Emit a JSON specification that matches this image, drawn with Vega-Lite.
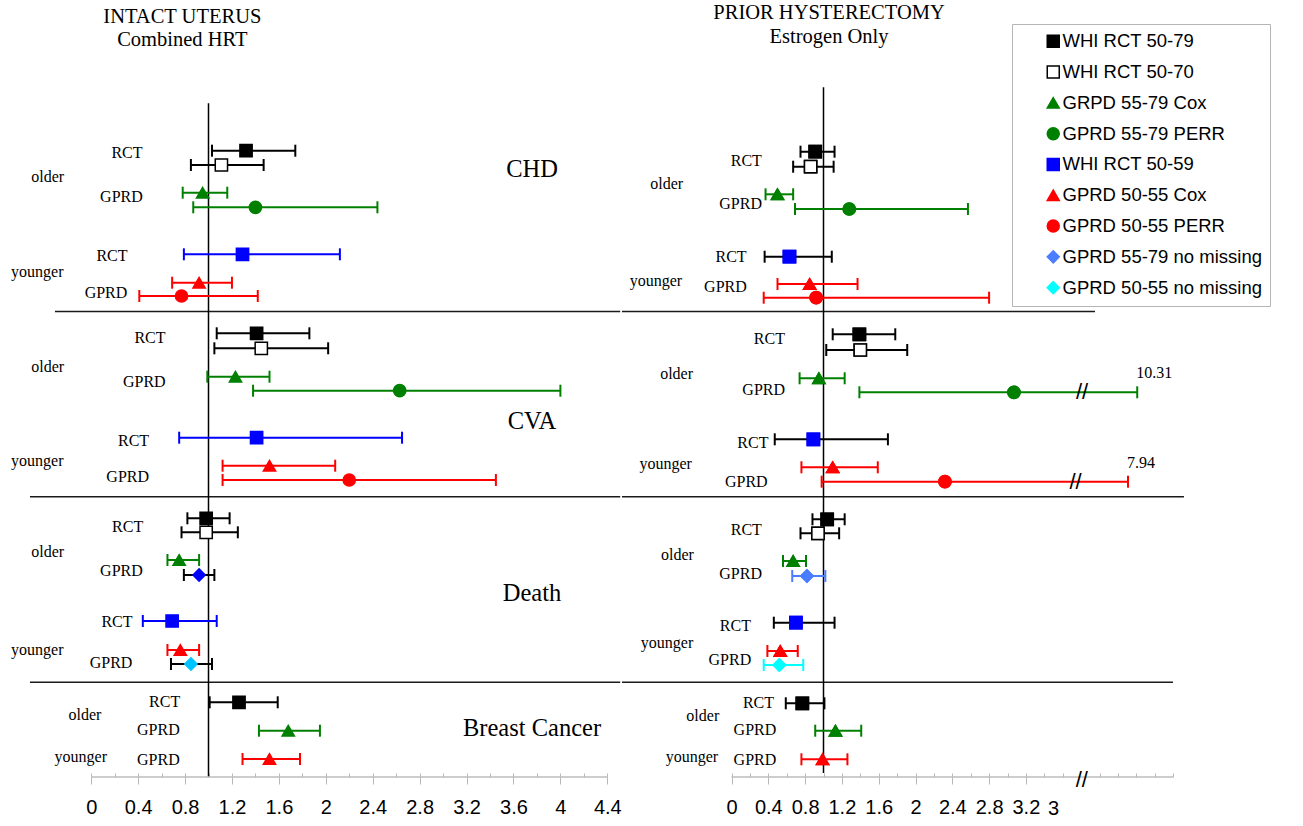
{
  "$schema": "https://vega.github.io/schema/vega-lite/v6.json",
  "padding": 0,
  "background": "white",
  "config": {
    "view": {"stroke": null},
    "axis": {"domain": false, "grid": false, "tickColor": "#b8b8b8", "tickWidth": 1, "labelFont": "Liberation Sans", "labelFontSize": 20, "labelColor": "#000000", "labelPadding": 13, "labelOverlap": false, "labelFlush": false}
  },
  "datasets": {
    "forest": [
      {"panel":"L","outcome":"CHD","series":"WHI RCT 50-79","row":15.07,"est":1.32,"lo":1.03,"hi":1.74},
      {"panel":"L","outcome":"CHD","series":"WHI RCT 50-70","row":16.5,"est":1.11,"lo":0.85,"hi":1.47},
      {"panel":"L","outcome":"CHD","series":"GRPD 55-79 Cox","row":19.27,"est":0.95,"lo":0.78,"hi":1.16},
      {"panel":"L","outcome":"CHD","series":"GPRD 55-79 PERR","row":20.73,"est":1.40,"lo":0.87,"hi":2.44},
      {"panel":"L","outcome":"CHD","series":"WHI RCT 50-59","row":25.43,"est":1.29,"lo":0.79,"hi":2.12},
      {"panel":"L","outcome":"CHD","series":"GPRD 50-55 Cox","row":28.27,"est":0.92,"lo":0.69,"hi":1.20},
      {"panel":"L","outcome":"CHD","series":"GPRD 50-55 PERR","row":29.6,"est":0.77,"lo":0.41,"hi":1.42},
      {"panel":"L","outcome":"CVA","series":"WHI RCT 50-79","row":33.33,"est":1.41,"lo":1.07,"hi":1.86},
      {"panel":"L","outcome":"CVA","series":"WHI RCT 50-70","row":34.83,"est":1.45,"lo":1.05,"hi":2.02},
      {"panel":"L","outcome":"CVA","series":"GRPD 55-79 Cox","row":37.67,"est":1.23,"lo":0.99,"hi":1.52},
      {"panel":"L","outcome":"CVA","series":"GPRD 55-79 PERR","row":39.07,"est":2.63,"lo":1.38,"hi":4.00},
      {"panel":"L","outcome":"CVA","series":"WHI RCT 50-59","row":43.77,"est":1.41,"lo":0.75,"hi":2.65},
      {"panel":"L","outcome":"CVA","series":"GPRD 50-55 Cox","row":46.57,"est":1.52,"lo":1.12,"hi":2.08},
      {"panel":"L","outcome":"CVA","series":"GPRD 50-55 PERR","row":48.0,"est":2.20,"lo":1.12,"hi":3.45},
      {"panel":"L","outcome":"Death","series":"WHI RCT 50-79","row":51.83,"est":0.98,"lo":0.82,"hi":1.18},
      {"panel":"L","outcome":"Death","series":"WHI RCT 50-70","row":53.23,"est":0.98,"lo":0.77,"hi":1.25},
      {"panel":"L","outcome":"Death","series":"GRPD 55-79 Cox","row":56.0,"est":0.75,"lo":0.65,"hi":0.92},
      {"panel":"L","outcome":"Death","series":"GPRD 55-79 no missing","row":57.5,"est":0.92,"lo":0.79,"hi":1.05},
      {"panel":"L","outcome":"Death","series":"WHI RCT 50-59","row":62.1,"est":0.69,"lo":0.44,"hi":1.07},
      {"panel":"L","outcome":"Death","series":"GPRD 50-55 Cox","row":65.0,"est":0.76,"lo":0.65,"hi":0.92},
      {"panel":"L","outcome":"Death","series":"GPRD 50-55 no missing","row":66.4,"est":0.85,"lo":0.68,"hi":1.03},
      {"panel":"L","outcome":"Breast Cancer","series":"WHI RCT 50-79","row":70.23,"est":1.26,"lo":1.01,"hi":1.59},
      {"panel":"L","outcome":"Breast Cancer","series":"GRPD 55-79 Cox","row":73.07,"est":1.68,"lo":1.43,"hi":1.95},
      {"panel":"L","outcome":"Breast Cancer","series":"GPRD 50-55 Cox","row":75.9,"est":1.52,"lo":1.29,"hi":1.78},
      {"panel":"R","outcome":"CHD","series":"WHI RCT 50-79","row":15.17,"est":0.91,"lo":0.75,"hi":1.12},
      {"panel":"R","outcome":"CHD","series":"WHI RCT 50-70","row":16.67,"est":0.86,"lo":0.67,"hi":1.11},
      {"panel":"R","outcome":"CHD","series":"GRPD 55-79 Cox","row":19.43,"est":0.50,"lo":0.37,"hi":0.67},
      {"panel":"R","outcome":"CHD","series":"GPRD 55-79 PERR","row":20.9,"est":1.28,"lo":0.69,"hi":2.57},
      {"panel":"R","outcome":"CHD","series":"WHI RCT 50-59","row":25.67,"est":0.63,"lo":0.36,"hi":1.09},
      {"panel":"R","outcome":"CHD","series":"GPRD 50-55 Cox","row":28.4,"est":0.85,"lo":0.50,"hi":1.37},
      {"panel":"R","outcome":"CHD","series":"GPRD 50-55 PERR","row":29.77,"est":0.92,"lo":0.35,"hi":2.80},
      {"panel":"R","outcome":"CVA","series":"WHI RCT 50-79","row":33.43,"est":1.39,"lo":1.10,"hi":1.78},
      {"panel":"R","outcome":"CVA","series":"WHI RCT 50-70","row":35.0,"est":1.40,"lo":1.03,"hi":1.91},
      {"panel":"R","outcome":"CVA","series":"GRPD 55-79 Cox","row":37.83,"est":0.95,"lo":0.74,"hi":1.23},
      {"panel":"R","outcome":"CVA","series":"GPRD 55-79 PERR","row":39.23,"est":3.07,"lo":1.39,"hi":4.41,"hiActual":"10.31","brk":3.81},
      {"panel":"R","outcome":"CVA","series":"WHI RCT 50-59","row":43.93,"est":0.89,"lo":0.47,"hi":1.70},
      {"panel":"R","outcome":"CVA","series":"GPRD 50-55 Cox","row":46.73,"est":1.10,"lo":0.76,"hi":1.59},
      {"panel":"R","outcome":"CVA","series":"GPRD 50-55 PERR","row":48.17,"est":2.32,"lo":0.98,"hi":4.31,"hiActual":"7.94","brk":3.74},
      {"panel":"R","outcome":"Death","series":"WHI RCT 50-79","row":51.93,"est":1.04,"lo":0.88,"hi":1.23},
      {"panel":"R","outcome":"Death","series":"WHI RCT 50-70","row":53.33,"est":0.94,"lo":0.75,"hi":1.17},
      {"panel":"R","outcome":"Death","series":"GRPD 55-79 Cox","row":56.1,"est":0.67,"lo":0.56,"hi":0.81},
      {"panel":"R","outcome":"Death","series":"GPRD 55-79 no missing","row":57.6,"est":0.82,"lo":0.66,"hi":1.02},
      {"panel":"R","outcome":"Death","series":"WHI RCT 50-59","row":62.27,"est":0.70,"lo":0.46,"hi":1.12},
      {"panel":"R","outcome":"Death","series":"GPRD 50-55 Cox","row":65.1,"est":0.53,"lo":0.39,"hi":0.72},
      {"panel":"R","outcome":"Death","series":"GPRD 50-55 no missing","row":66.5,"est":0.52,"lo":0.35,"hi":0.78},
      {"panel":"R","outcome":"Breast Cancer","series":"WHI RCT 50-79","row":70.33,"est":0.77,"lo":0.59,"hi":1.01},
      {"panel":"R","outcome":"Breast Cancer","series":"GRPD 55-79 Cox","row":73.07,"est":1.13,"lo":0.91,"hi":1.41},
      {"panel":"R","outcome":"Breast Cancer","series":"GPRD 50-55 Cox","row":75.93,"est":0.99,"lo":0.76,"hi":1.26}
    ],
    "annot": [
      {"panel":"L","kind":"title","text":"INTACT UTERUS","x":0.777,"row":1.67},
      {"panel":"L","kind":"title","text":"Combined HRT","x":0.777,"row":4.0},
      {"panel":"L","kind":"section","text":"CHD","x":3.758,"row":17.0},
      {"panel":"L","kind":"section","text":"CVA","x":3.758,"row":42.17},
      {"panel":"L","kind":"section","text":"Death","x":3.758,"row":59.4},
      {"panel":"L","kind":"section","text":"Breast Cancer","x":3.758,"row":72.9},
      {"panel":"L","kind":"group","text":"RCT","x":0.305,"row":15.27},
      {"panel":"L","kind":"group","text":"older","x":-0.371,"row":17.67},
      {"panel":"L","kind":"group","text":"GPRD","x":0.258,"row":19.67},
      {"panel":"L","kind":"group","text":"RCT","x":0.177,"row":25.57},
      {"panel":"L","kind":"group","text":"younger","x":-0.46,"row":27.2},
      {"panel":"L","kind":"group","text":"GPRD","x":0.126,"row":29.3},
      {"panel":"L","kind":"group","text":"RCT","x":0.501,"row":33.83},
      {"panel":"L","kind":"group","text":"older","x":-0.371,"row":36.67},
      {"panel":"L","kind":"group","text":"GPRD","x":0.453,"row":38.17},
      {"panel":"L","kind":"group","text":"RCT","x":0.361,"row":44.1},
      {"panel":"L","kind":"group","text":"younger","x":-0.46,"row":46.07},
      {"panel":"L","kind":"group","text":"GPRD","x":0.311,"row":47.67},
      {"panel":"L","kind":"group","text":"RCT","x":0.311,"row":52.67},
      {"panel":"L","kind":"group","text":"older","x":-0.371,"row":55.17},
      {"panel":"L","kind":"group","text":"GPRD","x":0.258,"row":57.07},
      {"panel":"L","kind":"group","text":"RCT","x":0.22,"row":62.17},
      {"panel":"L","kind":"group","text":"younger","x":-0.46,"row":65.0},
      {"panel":"L","kind":"group","text":"GPRD","x":0.169,"row":66.33},
      {"panel":"L","kind":"group","text":"RCT","x":0.626,"row":70.17},
      {"panel":"L","kind":"group","text":"older","x":-0.053,"row":71.5},
      {"panel":"L","kind":"group","text":"GPRD","x":0.573,"row":73.0},
      {"panel":"L","kind":"group","text":"younger","x":-0.089,"row":75.67},
      {"panel":"L","kind":"group","text":"GPRD","x":0.573,"row":76.0},
      {"panel":"R","kind":"title","text":"PRIOR HYSTERECTOMY","x":1.06,"row":1.27},
      {"panel":"R","kind":"title","text":"Estrogen Only","x":1.06,"row":3.67},
      {"panel":"R","kind":"group","text":"RCT","x":0.161,"row":16.1},
      {"panel":"R","kind":"group","text":"older","x":-0.705,"row":18.43},
      {"panel":"R","kind":"group","text":"GPRD","x":0.099,"row":20.4},
      {"panel":"R","kind":"group","text":"RCT","x":-0.005,"row":25.67},
      {"panel":"R","kind":"group","text":"younger","x":-0.821,"row":28.07},
      {"panel":"R","kind":"group","text":"GPRD","x":-0.066,"row":28.67},
      {"panel":"R","kind":"group","text":"RCT","x":0.412,"row":33.93},
      {"panel":"R","kind":"group","text":"older","x":-0.597,"row":37.4},
      {"panel":"R","kind":"group","text":"GPRD","x":0.35,"row":39.0},
      {"panel":"R","kind":"group","text":"RCT","x":0.232,"row":44.27},
      {"panel":"R","kind":"group","text":"younger","x":-0.715,"row":46.4},
      {"panel":"R","kind":"group","text":"GPRD","x":0.161,"row":48.17},
      {"panel":"R","kind":"group","text":"RCT","x":0.161,"row":53.0},
      {"panel":"R","kind":"group","text":"older","x":-0.587,"row":55.5},
      {"panel":"R","kind":"group","text":"GPRD","x":0.099,"row":57.4},
      {"panel":"R","kind":"group","text":"RCT","x":0.042,"row":62.6},
      {"panel":"R","kind":"group","text":"younger","x":-0.701,"row":64.27},
      {"panel":"R","kind":"group","text":"GPRD","x":-0.018,"row":66.0},
      {"panel":"R","kind":"group","text":"RCT","x":0.293,"row":70.27},
      {"panel":"R","kind":"group","text":"older","x":-0.312,"row":71.6},
      {"panel":"R","kind":"group","text":"GPRD","x":0.255,"row":73.0},
      {"panel":"R","kind":"group","text":"younger","x":-0.43,"row":75.67},
      {"panel":"R","kind":"group","text":"GPRD","x":0.255,"row":76.0},
      {"panel":"R","kind":"axis","text":"3","x":3.5,"row":80.9}
    ]
  },
  "spacing": -3,
  "resolve": {
    "scale": {"x": "independent", "y": "independent", "color": "independent", "fill": "independent", "stroke": "independent", "shape": "independent"}
  },
  "hconcat": [
    {
      "width": 620,
      "height": 777,
      "resolve": {"axis": {"x": "independent"}},
      "layer": [
        {"data": {"values": [{}]}, "mark": {"type": "rule", "color": "#1a1a1a", "strokeWidth": 1.6},
         "encoding": {"x": {"datum": -0.309, "type": "quantitative", "scale": {"domain": [-0.7775, 4.5081], "nice": false, "zero": false}, "axis": null}, "x2": {"datum": 4.51},
                      "y": {"datum": 31.15, "type": "quantitative", "scale": {"domain": [0, 77.7], "reverse": true, "nice": false, "zero": false}, "axis": null}}},
        {"data": {"values": [{}]}, "mark": {"type": "rule", "color": "#1a1a1a", "strokeWidth": 1.6},
         "encoding": {"x": {"datum": -0.522, "type": "quantitative", "scale": {"domain": [-0.7775, 4.5081], "nice": false, "zero": false}, "axis": null}, "x2": {"datum": 4.51},
                      "y": {"datum": 49.67, "type": "quantitative", "scale": {"domain": [0, 77.7], "reverse": true, "nice": false, "zero": false}, "axis": null}}},
        {"data": {"values": [{}]}, "mark": {"type": "rule", "color": "#1a1a1a", "strokeWidth": 1.6},
         "encoding": {"x": {"datum": -0.522, "type": "quantitative", "scale": {"domain": [-0.7775, 4.5081], "nice": false, "zero": false}, "axis": null}, "x2": {"datum": 4.51},
                      "y": {"datum": 68.23, "type": "quantitative", "scale": {"domain": [0, 77.7], "reverse": true, "nice": false, "zero": false}, "axis": null}}},
        {"data": {"values": [{}]}, "mark": {"type": "rule", "color": "#000000", "strokeWidth": 1.5},
         "encoding": {"x": {"datum": 1, "type": "quantitative", "scale": {"domain": [-0.7775, 4.5081], "nice": false, "zero": false}, "axis": null},
                      "y": {"datum": 10.33, "type": "quantitative", "scale": {"domain": [0, 77.7], "reverse": true, "nice": false, "zero": false}, "axis": null}, "y2": {"datum": 77.7}}},
        {"data": {"values": [{}]}, "mark": {"type": "rule", "color": "#bdbdbd", "strokeWidth": 1.5},
         "encoding": {"x": {"datum": 0, "type": "quantitative", "scale": {"domain": [-0.7775, 4.5081], "nice": false, "zero": false}, "axis": null}, "x2": {"datum": 4.4},
                      "y": {"datum": 77.7, "type": "quantitative", "scale": {"domain": [0, 77.7], "reverse": true, "nice": false, "zero": false}, "axis": null}}},
        {"data": {"name": "forest"}, "transform": [{"filter": "datum.panel === 'L'"}],
         "mark": {"type": "rule", "strokeWidth": 2, "opacity": 1},
         "encoding": {
           "x": {"field": "lo", "type": "quantitative", "title": null, "scale": {"domain": [-0.7775, 4.5081], "nice": false, "zero": false},
                 "axis": {"title": null, "orient": "bottom", "format": ".2~g", "tickSize": 7, "values": [0,0.4,0.8,1.2,1.6,2,2.4,2.8,3.2,3.6,4,4.4]}},
           "x2": {"field": "hi"},
           "y": {"field": "row", "type": "quantitative", "scale": {"domain": [0, 77.7], "reverse": true, "nice": false, "zero": false}, "axis": null},
           "color": {"field": "series", "type": "nominal", "legend": null,
                     "scale": {"domain": ["WHI RCT 50-79","WHI RCT 50-70","GRPD 55-79 Cox","GPRD 55-79 PERR","WHI RCT 50-59","GPRD 50-55 Cox","GPRD 50-55 PERR","GPRD 55-79 no missing","GPRD 50-55 no missing"],
                               "range": ["#000000","#000000","#008000","#008000","#0000ff","#ff0000","#ff0000","#000000","#000000"]}}
         }},
        {"data": {"name": "forest"}, "transform": [{"filter": "datum.panel === 'L'"}],
         "mark": {"type": "tick", "orient": "vertical", "size": 12, "thickness": 2, "opacity": 1},
         "encoding": {
           "x": {"field": "lo", "type": "quantitative", "title": null, "scale": {"domain": [-0.7775, 4.5081], "nice": false, "zero": false},
                 "axis": {"title": null, "orient": "bottom", "labels": false, "tickSize": -4, "values": [0,0.2,0.4,0.6,0.8,1,1.2,1.4,1.6,1.8,2,2.2,2.4,2.6,2.8,3,3.2,3.4,3.6,3.8,4,4.2,4.4]}},
           "y": {"field": "row", "type": "quantitative", "scale": {"domain": [0, 77.7], "reverse": true, "nice": false, "zero": false}, "axis": null},
           "color": {"field": "series", "type": "nominal", "legend": null,
                     "scale": {"domain": ["WHI RCT 50-79","WHI RCT 50-70","GRPD 55-79 Cox","GPRD 55-79 PERR","WHI RCT 50-59","GPRD 50-55 Cox","GPRD 50-55 PERR","GPRD 55-79 no missing","GPRD 50-55 no missing"],
                               "range": ["#000000","#000000","#008000","#008000","#0000ff","#ff0000","#ff0000","#000000","#000000"]}}
         }},
        {"data": {"name": "forest"}, "transform": [{"filter": "datum.panel === 'L'"}],
         "mark": {"type": "tick", "orient": "vertical", "size": 12, "thickness": 2, "opacity": 1},
         "encoding": {
           "x": {"field": "hi", "type": "quantitative", "scale": {"domain": [-0.7775, 4.5081], "nice": false, "zero": false}, "axis": null},
           "y": {"field": "row", "type": "quantitative", "scale": {"domain": [0, 77.7], "reverse": true, "nice": false, "zero": false}, "axis": null},
           "color": {"field": "series", "type": "nominal", "legend": null,
                     "scale": {"domain": ["WHI RCT 50-79","WHI RCT 50-70","GRPD 55-79 Cox","GPRD 55-79 PERR","WHI RCT 50-59","GPRD 50-55 Cox","GPRD 50-55 PERR","GPRD 55-79 no missing","GPRD 50-55 no missing"],
                               "range": ["#000000","#000000","#008000","#008000","#0000ff","#ff0000","#ff0000","#000000","#000000"]}}
         }},
        {"data": {"name": "forest"}, "transform": [{"filter": "datum.panel === 'L'"}],
         "mark": {"type": "point", "filled": true, "size": 150, "strokeWidth": 1.5, "opacity": 1},
         "encoding": {
           "x": {"field": "est", "type": "quantitative", "scale": {"domain": [-0.7775, 4.5081], "nice": false, "zero": false}, "axis": null},
           "y": {"field": "row", "type": "quantitative", "scale": {"domain": [0, 77.7], "reverse": true, "nice": false, "zero": false}, "axis": null},
           "fill": {"field": "series", "type": "nominal", "legend": null,
                    "scale": {"domain": ["WHI RCT 50-79","WHI RCT 50-70","GRPD 55-79 Cox","GPRD 55-79 PERR","WHI RCT 50-59","GPRD 50-55 Cox","GPRD 50-55 PERR","GPRD 55-79 no missing","GPRD 50-55 no missing"],
                              "range": ["#000000","#ffffff","#008000","#008000","#0000ff","#ff0000","#ff0000","#0000ff","#00c4ff"]}},
           "stroke": {"field": "series", "type": "nominal", "legend": null,
                      "scale": {"domain": ["WHI RCT 50-79","WHI RCT 50-70","GRPD 55-79 Cox","GPRD 55-79 PERR","WHI RCT 50-59","GPRD 50-55 Cox","GPRD 50-55 PERR","GPRD 55-79 no missing","GPRD 50-55 no missing"],
                                "range": ["#000000","#000000","#008000","#008000","#0000ff","#ff0000","#ff0000","#0000ff","#00c4ff"]}},
           "shape": {"field": "series", "type": "nominal", "legend": null,
                     "scale": {"domain": ["WHI RCT 50-79","WHI RCT 50-70","GRPD 55-79 Cox","GPRD 55-79 PERR","WHI RCT 50-59","GPRD 50-55 Cox","GPRD 50-55 PERR","GPRD 55-79 no missing","GPRD 50-55 no missing"],
                               "range": ["square","square","triangle-up","circle","square","triangle-up","circle","diamond","diamond"]}}
         }},
        {"data": {"name": "annot"}, "transform": [{"filter": "datum.panel === 'L' && datum.kind === 'group'"}],
         "mark": {"type": "text", "font": "Liberation Serif", "fontSize": 16, "align": "center", "baseline": "middle", "color": "#000000"},
         "encoding": {
           "x": {"field": "x", "type": "quantitative", "scale": {"domain": [-0.7775, 4.5081], "nice": false, "zero": false}, "axis": null},
           "y": {"field": "row", "type": "quantitative", "scale": {"domain": [0, 77.7], "reverse": true, "nice": false, "zero": false}, "axis": null},
           "text": {"field": "text"}}},
        {"data": {"name": "annot"}, "transform": [{"filter": "datum.panel === 'L' && datum.kind === 'section'"}],
         "mark": {"type": "text", "font": "Liberation Serif", "fontSize": 24.5, "align": "center", "baseline": "middle", "color": "#000000"},
         "encoding": {
           "x": {"field": "x", "type": "quantitative", "scale": {"domain": [-0.7775, 4.5081], "nice": false, "zero": false}, "axis": null},
           "y": {"field": "row", "type": "quantitative", "scale": {"domain": [0, 77.7], "reverse": true, "nice": false, "zero": false}, "axis": null},
           "text": {"field": "text"}}},
        {"data": {"name": "annot"}, "transform": [{"filter": "datum.panel === 'L' && datum.kind === 'title'"}],
         "mark": {"type": "text", "font": "Liberation Serif", "fontSize": 20.5, "align": "center", "baseline": "middle", "color": "#000000"},
         "encoding": {
           "x": {"field": "x", "type": "quantitative", "scale": {"domain": [-0.7775, 4.5081], "nice": false, "zero": false}, "axis": null},
           "y": {"field": "row", "type": "quantitative", "scale": {"domain": [0, 77.7], "reverse": true, "nice": false, "zero": false}, "axis": null},
           "text": {"field": "text"}}}
      ]
    },
    {
      "width": 683,
      "height": 777,
      "resolve": {"axis": {"x": "independent"}},
      "layer": [
        {"data": {"name": "forest"}, "transform": [{"filter": "datum.panel === 'R'"}],
         "mark": {"type": "point", "filled": true, "size": 150, "strokeWidth": 1.5, "opacity": 1},
         "encoding": {
           "x": {"field": "est", "type": "quantitative", "scale": {"domain": [-1.1903, 6.2337], "nice": false, "zero": false}, "axis": null},
           "y": {"field": "row", "type": "quantitative", "scale": {"domain": [0, 77.7], "reverse": true, "nice": false, "zero": false}, "axis": null},
           "fill": {"field": "series", "type": "nominal", "title": null,
                    "scale": {"domain": ["WHI RCT 50-79","WHI RCT 50-70","GRPD 55-79 Cox","GPRD 55-79 PERR","WHI RCT 50-59","GPRD 50-55 Cox","GPRD 50-55 PERR","GPRD 55-79 no missing","GPRD 50-55 no missing"],
                              "range": ["#000000","#ffffff","#008000","#008000","#0000ff","#ff0000","#ff0000","#4a7dff","#00ffff"]},
                    "legend": {"title": null, "orient": "none", "legendX": 390, "legendY": 24, "padding": 8, "symbolOffset": 24, "labelOffset": 0, "rowPadding": 11.8,
                               "labelFont": "Liberation Sans", "labelFontSize": 18.5, "labelColor": "#000000", "labelLimit": 0, "symbolSize": 144, "symbolStrokeWidth": 1.5,
                               "strokeColor": "#b5b5b5", "fillColor": "#ffffff"}},
           "stroke": {"field": "series", "type": "nominal", "title": null,
                      "scale": {"domain": ["WHI RCT 50-79","WHI RCT 50-70","GRPD 55-79 Cox","GPRD 55-79 PERR","WHI RCT 50-59","GPRD 50-55 Cox","GPRD 50-55 PERR","GPRD 55-79 no missing","GPRD 50-55 no missing"],
                                "range": ["#000000","#000000","#008000","#008000","#0000ff","#ff0000","#ff0000","#4a7dff","#00ffff"]},
                      "legend": {"title": null, "orient": "none", "legendX": 390, "legendY": 24, "padding": 8, "symbolOffset": 24, "labelOffset": 0, "rowPadding": 11.8,
                                 "labelFont": "Liberation Sans", "labelFontSize": 18.5, "labelColor": "#000000", "labelLimit": 0, "symbolSize": 144, "symbolStrokeWidth": 1.5,
                                 "strokeColor": "#b5b5b5", "fillColor": "#ffffff"}},
           "shape": {"field": "series", "type": "nominal", "title": null,
                     "scale": {"domain": ["WHI RCT 50-79","WHI RCT 50-70","GRPD 55-79 Cox","GPRD 55-79 PERR","WHI RCT 50-59","GPRD 50-55 Cox","GPRD 50-55 PERR","GPRD 55-79 no missing","GPRD 50-55 no missing"],
                               "range": ["square","square","triangle-up","circle","square","triangle-up","circle","diamond","diamond"]},
                     "legend": {"title": null, "orient": "none", "legendX": 390, "legendY": 24, "padding": 8, "symbolOffset": 24, "labelOffset": 0, "rowPadding": 11.8,
                                "labelFont": "Liberation Sans", "labelFontSize": 18.5, "labelColor": "#000000", "labelLimit": 0, "symbolSize": 144, "symbolStrokeWidth": 1.5,
                                "strokeColor": "#b5b5b5", "fillColor": "#ffffff"}}
         }},
        {"data": {"values": [{}]}, "mark": {"type": "rule", "color": "#1a1a1a", "strokeWidth": 1.6},
         "encoding": {"x": {"datum": -1.1903, "type": "quantitative", "scale": {"domain": [-1.1903, 6.2337], "nice": false, "zero": false}, "axis": null}, "x2": {"datum": 3.951},
                      "y": {"datum": 31.15, "type": "quantitative", "scale": {"domain": [0, 77.7], "reverse": true, "nice": false, "zero": false}, "axis": null}}},
        {"data": {"values": [{}]}, "mark": {"type": "rule", "color": "#1a1a1a", "strokeWidth": 1.6},
         "encoding": {"x": {"datum": -1.1903, "type": "quantitative", "scale": {"domain": [-1.1903, 6.2337], "nice": false, "zero": false}, "axis": null}, "x2": {"datum": 4.918},
                      "y": {"datum": 49.67, "type": "quantitative", "scale": {"domain": [0, 77.7], "reverse": true, "nice": false, "zero": false}, "axis": null}}},
        {"data": {"values": [{}]}, "mark": {"type": "rule", "color": "#1a1a1a", "strokeWidth": 1.6},
         "encoding": {"x": {"datum": -1.1903, "type": "quantitative", "scale": {"domain": [-1.1903, 6.2337], "nice": false, "zero": false}, "axis": null}, "x2": {"datum": 4.799},
                      "y": {"datum": 68.23, "type": "quantitative", "scale": {"domain": [0, 77.7], "reverse": true, "nice": false, "zero": false}, "axis": null}}},
        {"data": {"values": [{}]}, "mark": {"type": "rule", "color": "#000000", "strokeWidth": 1.5},
         "encoding": {"x": {"datum": 1, "type": "quantitative", "scale": {"domain": [-1.1903, 6.2337], "nice": false, "zero": false}, "axis": null},
                      "y": {"datum": 8.73, "type": "quantitative", "scale": {"domain": [0, 77.7], "reverse": true, "nice": false, "zero": false}, "axis": null}, "y2": {"datum": 77.3}}},
        {"data": {"values": [{}]}, "mark": {"type": "rule", "color": "#bdbdbd", "strokeWidth": 1.5},
         "encoding": {"x": {"datum": 0, "type": "quantitative", "scale": {"domain": [-1.1903, 6.2337], "nice": false, "zero": false}, "axis": null}, "x2": {"datum": 4.8},
                      "y": {"datum": 77.7, "type": "quantitative", "scale": {"domain": [0, 77.7], "reverse": true, "nice": false, "zero": false}, "axis": null}}},
        {"data": {"name": "forest"}, "transform": [{"filter": "datum.panel === 'R'"}],
         "mark": {"type": "rule", "strokeWidth": 2, "opacity": 1},
         "encoding": {
           "x": {"field": "lo", "type": "quantitative", "title": null, "scale": {"domain": [-1.1903, 6.2337], "nice": false, "zero": false},
                 "axis": {"title": null, "orient": "bottom", "format": ".2~g", "tickSize": 7, "values": [0,0.4,0.8,1.2,1.6,2,2.4,2.8,3.2]}},
           "x2": {"field": "hi"},
           "y": {"field": "row", "type": "quantitative", "scale": {"domain": [0, 77.7], "reverse": true, "nice": false, "zero": false}, "axis": null},
           "color": {"field": "series", "type": "nominal", "legend": null,
                     "scale": {"domain": ["WHI RCT 50-79","WHI RCT 50-70","GRPD 55-79 Cox","GPRD 55-79 PERR","WHI RCT 50-59","GPRD 50-55 Cox","GPRD 50-55 PERR","GPRD 55-79 no missing","GPRD 50-55 no missing"],
                               "range": ["#000000","#000000","#008000","#008000","#000000","#ff0000","#ff0000","#4a7dff","#00ffff"]}}
         }},
        {"data": {"name": "forest"}, "transform": [{"filter": "datum.panel === 'R'"}],
         "mark": {"type": "tick", "orient": "vertical", "size": 12, "thickness": 2, "opacity": 1},
         "encoding": {
           "x": {"field": "lo", "type": "quantitative", "title": null, "scale": {"domain": [-1.1903, 6.2337], "nice": false, "zero": false},
                 "axis": {"title": null, "orient": "bottom", "labels": false, "tickSize": -4, "values": [0,0.2,0.4,0.6,0.8,1,1.2,1.4,1.6,1.8,2,2.2,2.4,2.6,2.8,3,3.2,3.4,3.6,4,4.2,4.4,4.6,4.8]}},
           "y": {"field": "row", "type": "quantitative", "scale": {"domain": [0, 77.7], "reverse": true, "nice": false, "zero": false}, "axis": null},
           "color": {"field": "series", "type": "nominal", "legend": null,
                     "scale": {"domain": ["WHI RCT 50-79","WHI RCT 50-70","GRPD 55-79 Cox","GPRD 55-79 PERR","WHI RCT 50-59","GPRD 50-55 Cox","GPRD 50-55 PERR","GPRD 55-79 no missing","GPRD 50-55 no missing"],
                               "range": ["#000000","#000000","#008000","#008000","#000000","#ff0000","#ff0000","#4a7dff","#00ffff"]}}
         }},
        {"data": {"name": "forest"}, "transform": [{"filter": "datum.panel === 'R'"}],
         "mark": {"type": "tick", "orient": "vertical", "size": 12, "thickness": 2, "opacity": 1},
         "encoding": {
           "x": {"field": "hi", "type": "quantitative", "scale": {"domain": [-1.1903, 6.2337], "nice": false, "zero": false}, "axis": null},
           "y": {"field": "row", "type": "quantitative", "scale": {"domain": [0, 77.7], "reverse": true, "nice": false, "zero": false}, "axis": null},
           "color": {"field": "series", "type": "nominal", "legend": null,
                     "scale": {"domain": ["WHI RCT 50-79","WHI RCT 50-70","GRPD 55-79 Cox","GPRD 55-79 PERR","WHI RCT 50-59","GPRD 50-55 Cox","GPRD 50-55 PERR","GPRD 55-79 no missing","GPRD 50-55 no missing"],
                               "range": ["#000000","#000000","#008000","#008000","#000000","#ff0000","#ff0000","#4a7dff","#00ffff"]}}
         }},
        {"data": {"name": "forest"}, "transform": [{"filter": "datum.panel === 'R' && datum.brk"}],
         "mark": {"type": "text", "text": "//", "font": "Liberation Sans", "fontSize": 22, "align": "center", "baseline": "middle", "color": "#000000"},
         "encoding": {
           "x": {"field": "brk", "type": "quantitative", "scale": {"domain": [-1.1903, 6.2337], "nice": false, "zero": false}, "axis": null},
           "y": {"field": "row", "type": "quantitative", "scale": {"domain": [0, 77.7], "reverse": true, "nice": false, "zero": false}, "axis": null}}},
        {"data": {"values": [{}]},
         "mark": {"type": "text", "text": "//", "font": "Liberation Sans", "fontSize": 22, "align": "center", "baseline": "middle", "color": "#000000"},
         "encoding": {
           "x": {"datum": 3.807, "type": "quantitative", "scale": {"domain": [-1.1903, 6.2337], "nice": false, "zero": false}, "axis": null},
           "y": {"datum": 78.0, "type": "quantitative", "scale": {"domain": [0, 77.7], "reverse": true, "nice": false, "zero": false}, "axis": null}}},
        {"data": {"name": "forest"}, "transform": [{"filter": "datum.panel === 'R' && datum.hiActual"}],
         "mark": {"type": "text", "font": "Liberation Serif", "fontSize": 16, "align": "left", "baseline": "middle", "dx": -1, "dy": -19, "color": "#000000"},
         "encoding": {
           "x": {"field": "hi", "type": "quantitative", "scale": {"domain": [-1.1903, 6.2337], "nice": false, "zero": false}, "axis": null},
           "y": {"field": "row", "type": "quantitative", "scale": {"domain": [0, 77.7], "reverse": true, "nice": false, "zero": false}, "axis": null},
           "text": {"field": "hiActual"}}},
        {"data": {"name": "annot"}, "transform": [{"filter": "datum.panel === 'R' && datum.kind === 'group'"}],
         "mark": {"type": "text", "font": "Liberation Serif", "fontSize": 16, "align": "center", "baseline": "middle", "color": "#000000"},
         "encoding": {
           "x": {"field": "x", "type": "quantitative", "scale": {"domain": [-1.1903, 6.2337], "nice": false, "zero": false}, "axis": null},
           "y": {"field": "row", "type": "quantitative", "scale": {"domain": [0, 77.7], "reverse": true, "nice": false, "zero": false}, "axis": null},
           "text": {"field": "text"}}},
        {"data": {"name": "annot"}, "transform": [{"filter": "datum.panel === 'R' && datum.kind === 'axis'"}],
         "mark": {"type": "text", "font": "Liberation Sans", "fontSize": 20, "align": "center", "baseline": "middle", "color": "#000000"},
         "encoding": {
           "x": {"field": "x", "type": "quantitative", "scale": {"domain": [-1.1903, 6.2337], "nice": false, "zero": false}, "axis": null},
           "y": {"field": "row", "type": "quantitative", "scale": {"domain": [0, 77.7], "reverse": true, "nice": false, "zero": false}, "axis": null},
           "text": {"field": "text"}}},
        {"data": {"name": "annot"}, "transform": [{"filter": "datum.panel === 'R' && datum.kind === 'title'"}],
         "mark": {"type": "text", "font": "Liberation Serif", "fontSize": 20.5, "align": "center", "baseline": "middle", "color": "#000000"},
         "encoding": {
           "x": {"field": "x", "type": "quantitative", "scale": {"domain": [-1.1903, 6.2337], "nice": false, "zero": false}, "axis": null},
           "y": {"field": "row", "type": "quantitative", "scale": {"domain": [0, 77.7], "reverse": true, "nice": false, "zero": false}, "axis": null},
           "text": {"field": "text"}}},
        {"data": {"name": "forest"}, "transform": [{"filter": "datum.panel === 'R'"}],
         "mark": {"type": "point", "filled": true, "size": 150, "strokeWidth": 1.5, "opacity": 1},
         "encoding": {
           "x": {"field": "est", "type": "quantitative", "scale": {"domain": [-1.1903, 6.2337], "nice": false, "zero": false}, "axis": null},
           "y": {"field": "row", "type": "quantitative", "scale": {"domain": [0, 77.7], "reverse": true, "nice": false, "zero": false}, "axis": null},
           "fill": {"field": "series", "type": "nominal", "legend": null,
                    "scale": {"domain": ["WHI RCT 50-79","WHI RCT 50-70","GRPD 55-79 Cox","GPRD 55-79 PERR","WHI RCT 50-59","GPRD 50-55 Cox","GPRD 50-55 PERR","GPRD 55-79 no missing","GPRD 50-55 no missing"],
                              "range": ["#000000","#ffffff","#008000","#008000","#0000ff","#ff0000","#ff0000","#4a7dff","#00ffff"]}},
           "stroke": {"field": "series", "type": "nominal", "legend": null,
                      "scale": {"domain": ["WHI RCT 50-79","WHI RCT 50-70","GRPD 55-79 Cox","GPRD 55-79 PERR","WHI RCT 50-59","GPRD 50-55 Cox","GPRD 50-55 PERR","GPRD 55-79 no missing","GPRD 50-55 no missing"],
                                "range": ["#000000","#000000","#008000","#008000","#0000ff","#ff0000","#ff0000","#4a7dff","#00ffff"]}},
           "shape": {"field": "series", "type": "nominal", "legend": null,
                     "scale": {"domain": ["WHI RCT 50-79","WHI RCT 50-70","GRPD 55-79 Cox","GPRD 55-79 PERR","WHI RCT 50-59","GPRD 50-55 Cox","GPRD 50-55 PERR","GPRD 55-79 no missing","GPRD 50-55 no missing"],
                               "range": ["square","square","triangle-up","circle","square","triangle-up","circle","diamond","diamond"]}}
         }}
      ]
    }
  ]
}
